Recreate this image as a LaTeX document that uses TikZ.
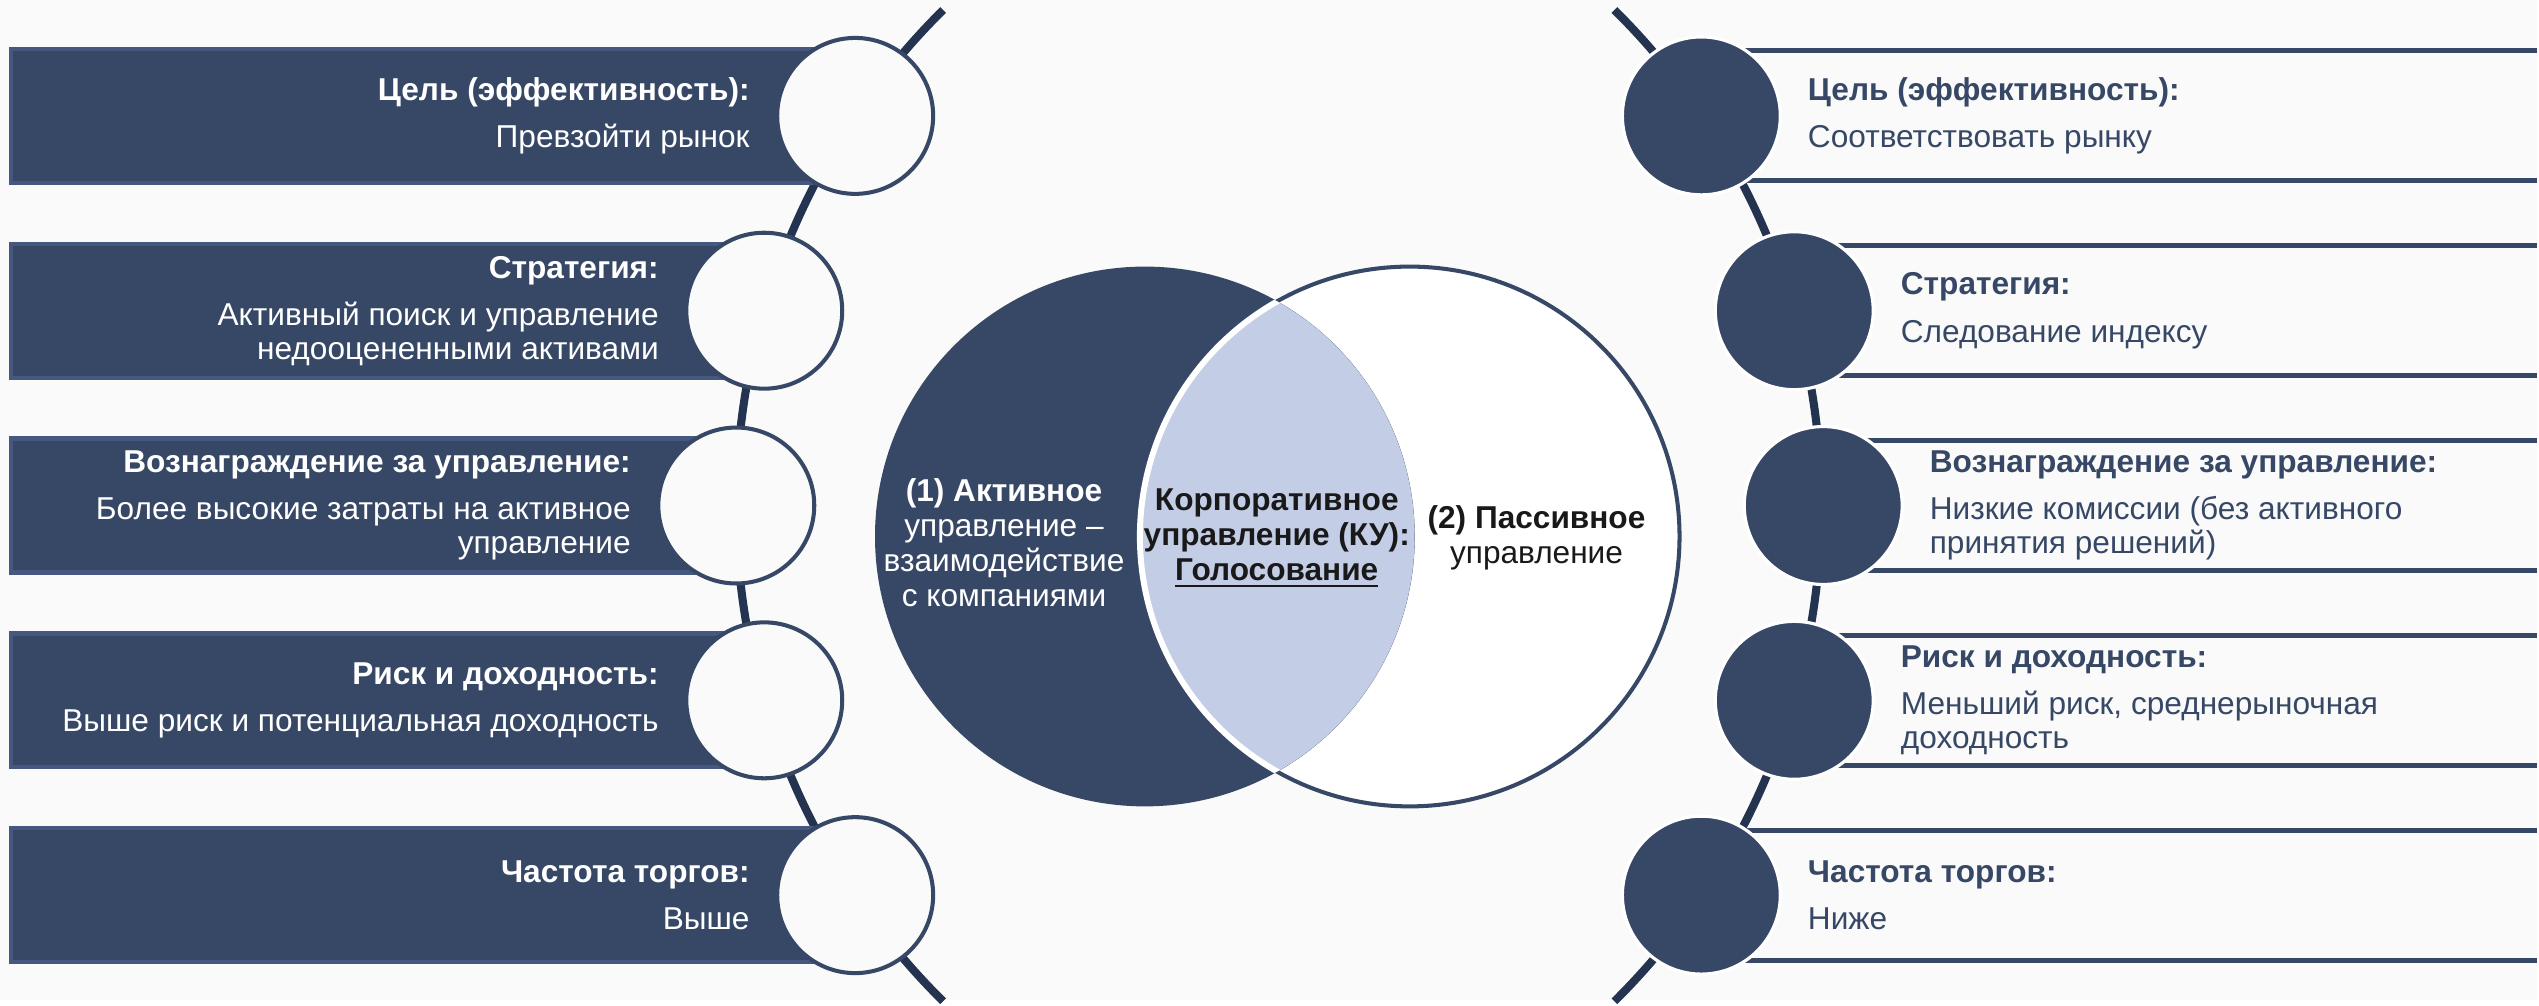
\documentclass[tikz,border=0pt]{standalone}
\usepackage{fontspec}
\setmainfont{Liberation Sans}
\usetikzlibrary{calc}

\definecolor{navy}{RGB}{55,72,102}
\definecolor{navydark}{RGB}{36,52,80}
\definecolor{navyedge}{RGB}{70,88,128}
\definecolor{lensblue}{RGB}{195,205,229}
\definecolor{paper}{RGB}{250,250,250}

\tikzset{
  chain/.style={navydark,line width=2.3pt},
  lbox/.style={fill=navy,draw=navyedge,line width=1.2pt},
  lcirc/.style={circle,fill=paper,draw=navy,line width=1.15pt,minimum size=1.56cm,inner sep=0pt},
  rcirc/.style={circle,fill=navy,draw=white,line width=0.9pt,minimum size=1.58cm,inner sep=0pt},
  rline/.style={navy,line width=1.4pt},
  txt/.style={inner sep=0pt,font=\fontsize{9}{9.7}\selectfont},
  ltxt/.style={txt,white,align=right,anchor=east},
  rtxt/.style={txt,navy,align=left,anchor=west},
  vtxt/.style={txt,align=center,font=\fontsize{9}{10}\selectfont},
}
\newcommand{\hd}[1]{\textbf{#1}\\[3.7pt]}

\begin{document}
\begin{tikzpicture}[x=0.01cm,y=-0.01cm]
  \fill[paper] (0,0) rectangle (2539,1001);
  % arcs behind the circles
  \coordinate (ltop) at (944,10);
  \coordinate (rtop) at (1616,10);
  \draw[chain] (ltop) arc[start angle=225.3,end angle=134.7,radius=698];
  \draw[chain] (rtop) arc[start angle=-45.3,end angle=45.3,radius=698];

  % left column
  \foreach \i/\y/\cx/\txt in {
      1/116/856/{\hd{Цель (эффективность):}Превзойти рынок},
      2/311/765/{\hd{Стратегия:}Активный поиск и управление\\недооцененными активами},
      3/506/737/{\hd{Вознаграждение за управление:}Более высокие затраты на активное\\управление},
      4/701/765/{\hd{Риск и доходность:}Выше риск и потенциальная доходность},
      5/896/856/{\hd{Частота торгов:}Выше}}{
    \draw[lbox] (11,\y-67) rectangle (\cx,\y+67);
    \node[lcirc] (l\i) at (\cx,\y) {};
    \node[ltxt] (lt\i) at (\cx-105,\y) {\txt};
  }

  % right column
  \foreach \i/\y/\cx/\txt in {
      1/116/1703/{\hd{Цель (эффективность):}Соответствовать рынку},
      2/311/1796/{\hd{Стратегия:}Следование индексу},
      3/506/1825/{\hd{Вознаграждение за управление:}Низкие комиссии (без активного\\принятия решений)},
      4/701/1796/{\hd{Риск и доходность:}Меньший риск, среднерыночная\\доходность},
      5/896/1703/{\hd{Частота торгов:}Ниже}}{
    \draw[rline] (\cx,\y-65) -- (2539,\y-65) (\cx,\y+65) -- (2539,\y+65);
    \node[rcirc] (r\i) at (\cx,\y) {};
    \node[rtxt] (rt\i) at (\cx+106,\y) {\txt};
  }

  % venn
  \node[circle,minimum size=5.4cm,fill=white,draw=navy,line width=1.15pt] (vr) at (1411,537) {};
  \node[circle,minimum size=5.4cm,fill=navy] (vl) at (1146,537) {};
  \begin{scope}
    \clip (vl.center) circle[radius=270];
    \fill[lensblue,draw=white,line width=1.7pt] (vr.center) circle[radius=270];
  \end{scope}
  \node[vtxt,white] (va) at (1005,543) {\textbf{(1) Активное}\\управление –\\взаимодействие\\с компаниями};
  \node[vtxt,black!90] (vk) at (1278,539) {\textbf{Корпоративное}\\\textbf{управление (КУ):}\\\textbf{\underline{Голосование}}};
  \node[vtxt,black!90] (vp) at (1538,538) {\textbf{(2) Пассивное}\\управление};
\end{tikzpicture}
\end{document}
